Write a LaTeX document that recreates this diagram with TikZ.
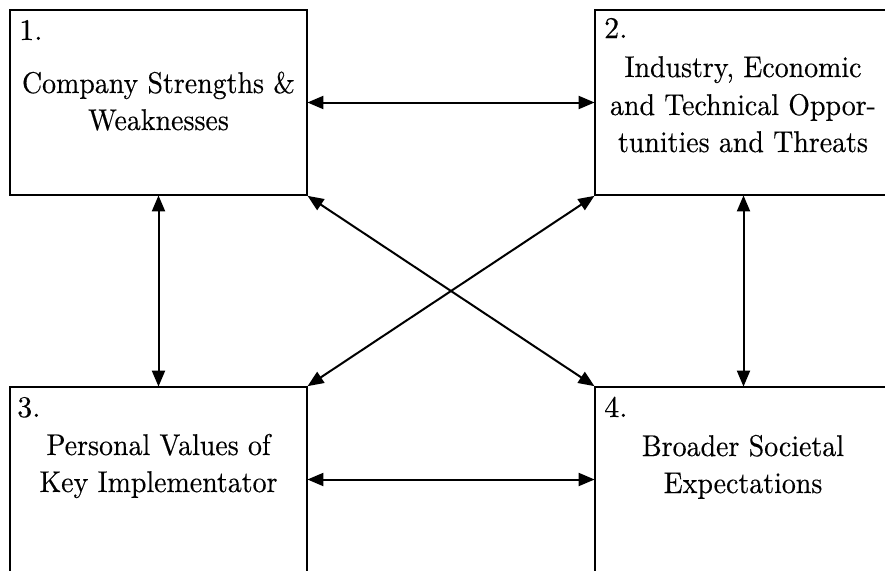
\documentclass[tikz,border=0pt]{standalone}
\usepackage{fontspec}
\usetikzlibrary{arrows.meta}
% a slightly heavier cut of the text face for the box labels
\newfontfamily\boxfont{lmroman10-regular.otf}[FakeBold=0.35]
% box labels are set a little narrower than the face's natural width
\newcommand\boxtext[1]{\scalebox{0.93}[1]{#1}}
\begin{document}
\begin{tikzpicture}[x=1pt,y=-1pt,
  factor/.style={draw,line width=2.8pt,minimum width=297pt,minimum height=185pt,inner sep=0pt},
  label/.style={anchor=base,inner sep=0pt,font=\boxfont\fontsize{30}{37}\selectfont},
  numtag/.style={anchor=base west,inner sep=0pt,font=\boxfont\fontsize{30}{37}\selectfont},
  link/.style={line width=2pt,{Triangle[length=16pt,width=13pt]}-{Triangle[length=16pt,width=13pt]},shorten <=-1pt,shorten >=-1pt}]
  \useasboundingbox (0,0) rectangle (885,570);
  % the four factor boxes
  \node[factor] (b1) at (158.5,102.5) {};
  \node[factor] (b2) at (743.5,102.5) {};
  \node[factor] (b3) at (158.5,479.5) {};
  \node[factor] (b4) at (743.5,479.5) {};
  % numbers
  \node[numtag] (n1) at (19,40) {1.};
  \node[numtag] (n2) at (604,38) {2.};
  \node[numtag] (n3) at (17,417) {3.};
  \node[numtag] (n4) at (604,417) {4.};
  % box texts
  \node[label] (t1a) at (158.5,93) {\boxtext{Company Strengths \&}};
  \node[label] (t1b) at (158.5,130) {\boxtext{Weaknesses}};
  \node[label] (t2a) at (743,77) {\boxtext{Industry, Economic}};
  \node[label] (t2b) at (743,115) {\boxtext{and Technical Oppor-}};
  \node[label] (t2c) at (743,152) {\boxtext{tunities and Threats}};
  \node[label] (t3a) at (158.5,455) {\boxtext{Personal Values of}};
  \node[label] (t3b) at (158.5,492) {\boxtext{Key Implementator}};
  \node[label] (t4a) at (743,456) {\boxtext{Broader Societal}};
  \node[label] (t4b) at (743,493) {\boxtext{Expectations}};
  % two-way influences
  \draw[link] (b1.east) -- (b2.west);
  \draw[link] (b3.east) -- (b4.west);
  \draw[link] (b1.south) -- (b3.north);
  \draw[link] (b2.south) -- (b4.north);
  \draw[link] (b1.south east) -- (b4.north west);
  \draw[link] (b2.south west) -- (b3.north east);
\end{tikzpicture}
\end{document}
